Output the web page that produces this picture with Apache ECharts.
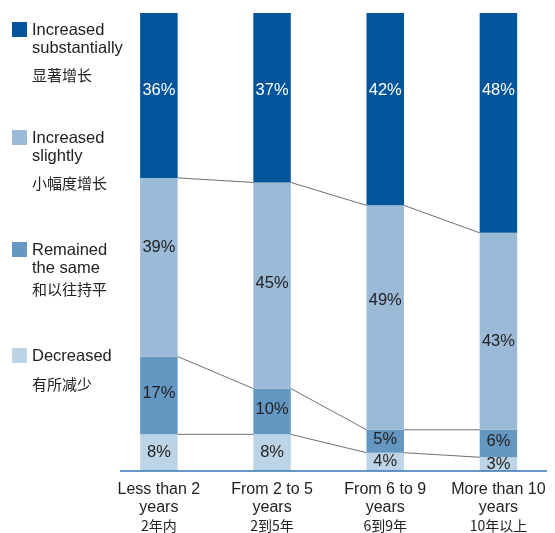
<!DOCTYPE html>
<html><head><meta charset="utf-8">
<script src="https://cdn.jsdelivr.net/npm/echarts@6/dist/echarts.min.js"></script>
<style>html,body{margin:0;padding:0;background:#fff}#c{width:555px;height:533px}</style>
</head><body><div id="c"></div>
<script>
// ---- data ----
const categoriesEn = ['Less than 2', 'From 2 to 5', 'From 6 to 9', 'More than 10'];
const categoriesZh = ['2年内', '2到5年', '6到9年', '10年以上'];
const seriesNames = ['Decreased', 'Remained the same', 'Increased slightly', 'Increased substantially'];
const seriesZh = ['有所减少', '和以往持平', '小幅度增长', '显著增长'];
const decreased = [8, 8, 4, 3];
const remained = [17, 10, 5, 6];
const slightly = [39, 45, 49, 43];
const substantially = [36, 37, 42, 48];

// ---- styling ----
const FONT = "'Liberation Sans',Arial,sans-serif";
const CJK = "'Noto Sans CJK SC',sans-serif";
const TXT = '#222222';
const colors = ['#bdd4e7', '#6497c1', '#9abad7', '#02559a'];
const BAR_W = 37.5;
const slightLabelShift = [-20, -2, -17, 10];

const stacks = [decreased, remained, slightly, substantially];
const cum = (k, i) => stacks.slice(0, k + 1).reduce((s, a) => s + a[i], 0);
const connectorData = [];
for (let k = 0; k < 3; k++) {
  for (let i = 0; i < categoriesEn.length - 1; i++) {
    connectorData.push([i, cum(k, i), cum(k, i + 1)]);
  }
}

const labelBase = { show: true, formatter: '{c}%', fontFamily: FONT, fontSize: 16.5, color: TXT };

const barSeries = [
  { name: seriesNames[0], data: decreased, label: Object.assign({}, labelBase, { position: 'inside', offset: [0, 0] }) },
  { name: seriesNames[1], data: remained, label: Object.assign({}, labelBase, { position: 'inside', offset: [0, -2] }) },
  { name: seriesNames[2], data: slightly.map((v, i) => ({ value: v, label: { offset: [0, slightLabelShift[i]] } })),
    label: Object.assign({}, labelBase, { position: 'inside' }) },
  { name: seriesNames[3], data: substantially,
    label: Object.assign({}, labelBase, { position: ['50%', 77], align: 'center', verticalAlign: 'middle', color: '#ffffff' }) }
].map((s, idx) => Object.assign({
  type: 'bar', stack: 'total', barWidth: BAR_W,
  itemStyle: { color: colors[idx], borderWidth: 0 },
  emphasis: { disabled: true }, z: 2
}, s));

// legends: one per series, top-to-bottom order
const legendDefs = [
  { idx: 3, en: ['Increased', 'substantially'], top: 22, zhLH: 34 },
  { idx: 2, en: ['Increased', 'slightly'], top: 130, zhLH: 34 },
  { idx: 1, en: ['Remained', 'the same'], top: 242, zhLH: 23 },
  { idx: 0, en: ['Decreased'], top: 348, zhLH: 38 }
];
const legends = legendDefs.map(d => {
  const H = d.en.length === 2 ? 17 + 19 + d.zhLH : 17 + d.zhLH;
  const txt = (d.en.length === 2
    ? '{a|' + d.en[0] + '}\n{b|' + d.en[1] + '}\n'
    : '{a|' + d.en[0] + '}\n') + '{z|' + seriesZh[d.idx] + '}';
  return {
    show: true, left: 12, top: d.top, orient: 'vertical', padding: 0, itemGap: 0,
    selectedMode: false, data: [seriesNames[d.idx]],
    icon: 'path://M0,0H15V15H0ZM0,' + H + 'H15',
    itemWidth: 15, itemHeight: H,
    itemStyle: { borderWidth: 0 },
    formatter: () => txt,
    textStyle: {
      color: TXT,
      rich: {
        a: { fontFamily: FONT, fontSize: 16.5, lineHeight: 17, color: TXT },
        b: { fontFamily: FONT, fontSize: 16.5, lineHeight: 19, color: TXT },
        z: { fontFamily: CJK, fontSize: 15, lineHeight: d.zhLH, color: TXT }
      }
    }
  };
});

const chart = echarts.init(document.getElementById('c'), null, { renderer: 'canvas' });
chart.setOption({
  animation: false,
  backgroundColor: '#ffffff',
  grid: { left: 102.3, width: 459.2, top: 13, bottom: 60 },
  legend: legends,
  xAxis: {
    type: 'category',
    data: categoriesEn,
    axisLine: { show: false },
    axisTick: { show: false },
    axisLabel: {
      margin: 10, interval: 0,
      formatter: (v, i) => '{a|' + v + '}\n{a|years}\n{z|' + categoriesZh[i] + '}',
      rich: {
        a: { fontFamily: FONT, fontSize: 16, lineHeight: 18, color: TXT },
        z: { fontFamily: CJK, fontSize: 14, lineHeight: 18, color: TXT }
      }
    }
  },
  yAxis: { type: 'value', min: 0, max: 100, show: false, splitLine: { show: false } },
  series: barSeries.concat([{
    type: 'custom',
    name: 'connectors',
    silent: true,
    z: 5,
    encode: { x: 0, y: 1 },
    data: connectorData,
    renderItem: (params, api) => {
      const i = api.value(0);
      const p1 = api.coord([i, api.value(1)]);
      const p2 = api.coord([i + 1, api.value(2)]);
      const half = BAR_W / 2;
      return {
        type: 'line',
        shape: { x1: p1[0] + half, y1: p1[1], x2: p2[0] - half, y2: p2[1] },
        style: { stroke: '#707070', lineWidth: 1 }
      };
    }
  }])
});

const baseY = chart.convertToPixel({ gridIndex: 0 }, [0, 0])[1];
chart.setOption({
  graphic: [{
    type: 'line', z: 10, silent: true,
    shape: { x1: 120, y1: baseY, x2: 547, y2: baseY },
    style: { stroke: '#3474b3', lineWidth: 1.5 }
  }]
});
</script>
</body></html>
